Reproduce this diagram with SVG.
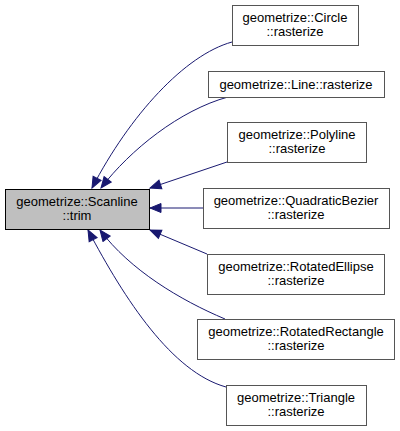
<svg xmlns="http://www.w3.org/2000/svg" width="400" height="431" viewBox="0 0 400 431">
<style>
.n{fill:#ffffff;stroke:#555555;stroke-width:1}
.m{fill:#bfbfbf;stroke:#000000;stroke-width:1}
text{font-family:"Liberation Sans",Arial,sans-serif;font-size:13px;text-anchor:middle;fill:#000}
.e{fill:none;stroke:#191970;stroke-width:1;marker-end:url(#ah)}
</style>
<defs>
<marker id="ah" markerUnits="userSpaceOnUse" markerWidth="14" markerHeight="12" refX="12" refY="5.5" orient="auto">
<path d="M1,1 L12,5.5 L1,10 z" fill="#191970" stroke="#191970"/>
</marker>
</defs>
<g id="edges">
<path class="e" d="M232,42 C185,55 130,115 92,188"/>
<path class="e" d="M228,97 C180,110 130,150 101,188"/>
<path class="e" d="M227,162 L150,188"/>
<path class="e" d="M203,208 L150,208"/>
<path class="e" d="M207,254 L150,230"/>
<path class="e" d="M225,319 C180,300 130,270 100,230"/>
<path class="e" d="M226,387 C172,372 125,300 88,230"/>
</g>
<g id="scanline_trim">
<rect class="m" x="5.5" y="189.5" width="144" height="40"/>
<text x="77" y="206">geometrize::Scanline</text>
<text x="77" y="220">::trim</text>
</g>
<g id="circle">
<rect class="n" x="232.5" y="5.5" width="126" height="40"/>
<text x="295" y="22">geometrize::Circle</text>
<text x="295" y="36">::rasterize</text>
</g>
<g id="line">
<rect class="n" x="208.5" y="71.5" width="176" height="26"/>
<text x="296" y="89">geometrize::Line::rasterize</text>
</g>
<g id="polyline">
<rect class="n" x="227.5" y="122.5" width="139" height="40"/>
<text x="297" y="139">geometrize::Polyline</text>
<text x="297" y="153">::rasterize</text>
</g>
<g id="quadraticbezier">
<rect class="n" x="203.5" y="188.5" width="186" height="40"/>
<text x="296" y="205">geometrize::QuadraticBezier</text>
<text x="296" y="219">::rasterize</text>
</g>
<g id="rotatedellipse">
<rect class="n" x="207.5" y="254.5" width="177" height="40"/>
<text x="296" y="271">geometrize::RotatedEllipse</text>
<text x="296" y="285">::rasterize</text>
</g>
<g id="rotatedrectangle">
<rect class="n" x="197.5" y="319.5" width="197" height="40"/>
<text x="296" y="336">geometrize::RotatedRectangle</text>
<text x="296" y="350">::rasterize</text>
</g>
<g id="triangle">
<rect class="n" x="226.5" y="385.5" width="140" height="40"/>
<text x="296" y="402">geometrize::Triangle</text>
<text x="296" y="416">::rasterize</text>
</g>
</svg>
